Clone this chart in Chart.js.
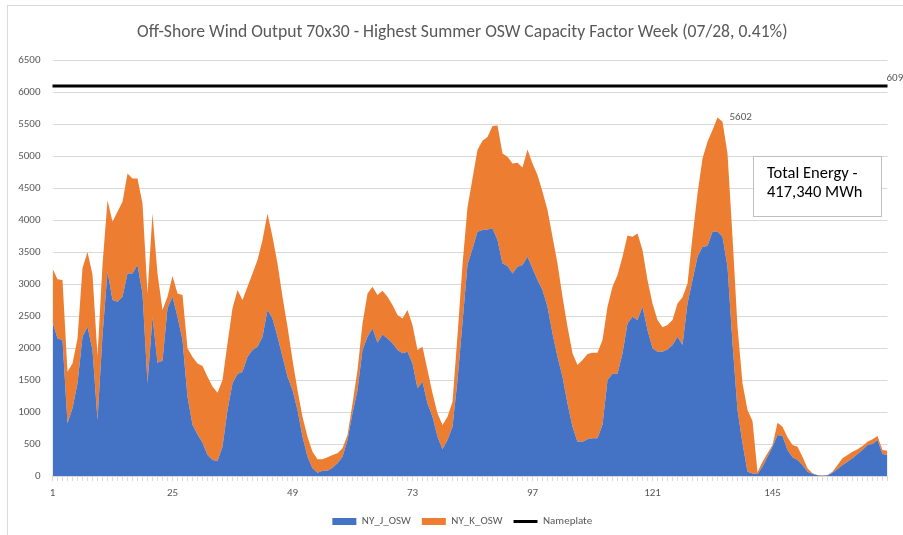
<!DOCTYPE html>
<html>
<head>
<meta charset="utf-8">
<script src="https://cdn.jsdelivr.net/npm/chart.js@4.4.1/dist/chart.umd.min.js"></script>
<style>
  html, body { margin: 0; padding: 0; background: #fff; }
  #wrap { width: 903px; height: 535px; position: relative; }
</style>
</head>
<body>
<div id="wrap"><canvas id="chart"></canvas></div>
<script>
// hours of the week (x categories) and the labels that Excel shows
const hours = Array.from({ length: 168 }, (_, i) => i + 1);
const tickLabels = ['1', '25', '49', '73', '97', '121', '145'];

// MW per hour
const nyJ = [
  2411, 2151, 2125, 823, 1057, 1448, 2177, 2333, 1969, 875,
  2200, 3192, 2750, 2724, 2802, 3166, 3166, 3296, 2854, 1448,
  2489, 1771, 1802, 2620, 2802, 2489, 2125, 1240, 800, 650,
  520, 330, 250, 235, 458, 1031, 1448, 1594, 1630, 1864,
  1969, 2021, 2177, 2594, 2463, 2177, 1864, 1552, 1344, 1031,
  615, 302, 120, 52, 83, 83, 130, 198, 302, 562,
  979, 1344, 1969, 2177, 2307, 2083, 2213, 2151, 2073, 1969,
  1917, 1943, 1760, 1370, 1474, 1135, 927, 615, 417, 562,
  771, 1500, 2400, 3300, 3550, 3817, 3844, 3854, 3870, 3687,
  3323, 3281, 3166, 3270, 3297, 3427, 3245, 3062, 2906, 2646,
  2229, 1865, 1552, 1135, 771, 536, 536, 573, 589, 589,
  800, 1500, 1600, 1600, 1917, 2385, 2490, 2438, 2646, 2281,
  1995, 1943, 1943, 1979, 2047, 2177, 2047, 2698, 3062, 3427,
  3583, 3593, 3817, 3817, 3739, 3270, 2073, 1031, 510, 68,
  40, 30, 146, 302, 458, 641, 625, 406, 292, 250,
  172, 68, 31, 10, 5, 10, 52, 109, 172, 224,
  276, 344, 406, 484, 500, 562, 344, 328
];
const nyK = [
  834, 924, 940, 807, 703, 702, 1073, 1167, 1181, 1005,
  1100, 1118, 1224, 1406, 1484, 1563, 1485, 1355, 1406, 1406,
  1615, 1395, 792, 182, 323, 365, 703, 755, 1060, 1110,
  1200, 1220, 1150, 1065, 1042, 1042, 1172, 1312, 1120, 1094,
  1197, 1354, 1510, 1510, 1276, 1146, 938, 781, 468, 313,
  312, 313, 260, 208, 177, 209, 198, 156, 130, 78,
  156, 312, 416, 677, 651, 745, 683, 651, 599, 546,
  546, 651, 599, 599, 547, 521, 365, 364, 380, 365,
  390, 700, 900, 900, 1100, 1283, 1396, 1446, 1600, 1793,
  1718, 1708, 1719, 1626, 1526, 1677, 1640, 1641, 1537, 1510,
  1510, 1458, 1250, 1198, 1146, 1198, 1276, 1333, 1338, 1338,
  1325, 1146, 1358, 1540, 1510, 1375, 1249, 1353, 885, 781,
  703, 495, 380, 380, 391, 521, 745, 312, 677, 989,
  1380, 1631, 1589, 1785, 1797, 1771, 1666, 1302, 938, 963,
  820, 30, 78, 52, 26, 192, 146, 198, 192, 208,
  130, 52, 11, 6, 5, 6, 16, 63, 104, 104,
  104, 73, 63, 52, 73, 63, 62, 68
];
const nameplate = 6096;
const totalEnergy = ['Total Energy -', '417,340 MWh'];

const FONT = 'Calibri, Carlito, Lato, sans-serif';
const GREY = '#595959';

// extra drawings: frame, peak label, nameplate label, text box
const extras = {
  id: 'extras',
  afterLayout(chart) {
    // the original chart is wider than the crop, so title and legend sit a bit right of centre
    for (const box of [chart.titleBlock, chart.legend]) {
      box.left += 15;
      box.right += 15;
    }
    chart.legend.top += 3;
    chart.legend.bottom += 3;
  },
  beforeDraw(chart) {
    const ctx = chart.ctx;
    ctx.save();
    ctx.fillStyle = '#fff';
    ctx.fillRect(0, 0, chart.width, chart.height);
    ctx.strokeStyle = '#d9d9d9';
    ctx.lineWidth = 1;
    ctx.strokeRect(7.5, 5.5, chart.width, chart.height - 3);
    ctx.restore();
  },
  afterDatasetsDraw(chart) {
    const ctx = chart.ctx;
    const xs = chart.scales.x, ys = chart.scales.y;
    ctx.save();
    // peak value label
    let best = 0;
    for (let i = 1; i < hours.length; i++) {
      if (nyJ[i] + nyK[i] > nyJ[best] + nyK[best]) best = i;
    }
    const peak = nyJ[best] + nyK[best];
    ctx.font = '11px ' + FONT;
    ctx.fillStyle = GREY;
    ctx.textBaseline = 'middle';
    ctx.textAlign = 'left';
    ctx.fillText(String(peak), xs.getPixelForValue(best) + 12, ys.getPixelForValue(peak));
    // nameplate value at the right end
    ctx.fillText(String(nameplate), xs.right - 1, ys.getPixelForValue(nameplate) - 8);
    // total energy box
    ctx.fillStyle = '#fff';
    ctx.fillRect(753.5, 156.5, 128, 60);
    ctx.strokeStyle = '#bfbfbf';
    ctx.strokeRect(753.5, 156.5, 128, 60);
    ctx.fillStyle = '#000';
    ctx.font = '16.5px ' + FONT;
    ctx.fillText(totalEnergy[0], 767, 174);
    ctx.fillText(totalEnergy[1], 767, 193);
    ctx.restore();
  }
};

new Chart(document.getElementById('chart'), {
  type: 'line',
  data: {
    labels: hours,
    datasets: [
      {
        label: 'NY_J_OSW',
        data: nyJ,
        backgroundColor: '#4472C4',
        borderColor: '#4472C4',
        borderWidth: 0,
        fill: 'origin',
        pointRadius: 0,
        tension: 0,
        stack: 'osw'
      },
      {
        label: 'NY_K_OSW',
        data: nyK,
        backgroundColor: '#ED7D31',
        borderColor: '#ED7D31',
        borderWidth: 0,
        fill: '-1',
        pointRadius: 0,
        tension: 0,
        stack: 'osw'
      },
      {
        label: 'Nameplate',
        data: hours.map(() => nameplate),
        borderColor: '#000',
        backgroundColor: '#000',
        borderWidth: 3,
        fill: false,
        pointRadius: 0,
        stack: 'np'
      }
    ]
  },
  options: {
    responsive: true,
    maintainAspectRatio: false,
    animation: false,
    devicePixelRatio: 1,
    layout: { padding: { left: 7, right: 15.5, top: 10, bottom: 1 } },
    plugins: {
      title: {
        display: true,
        text: 'Off-Shore Wind Output 70x30 - Highest Summer OSW Capacity Factor Week (07/28, 0.41%)',
        color: GREY,
        font: { family: FONT, size: 17.6, weight: 'normal' },
        padding: { top: 12, bottom: 17 }
      },
      legend: {
        position: 'bottom',
        labels: {
          color: GREY,
          font: { family: FONT, size: 11 },
          usePointStyle: true,
          pointStyleWidth: 24,
          boxHeight: 7,
          padding: 11,
          generateLabels(chart) {
            return chart.data.datasets.map((ds, i) => ({
              text: ds.label,
              fillStyle: ds.backgroundColor,
              strokeStyle: ds.borderColor,
              lineWidth: i === 2 ? 3 : 0,
              pointStyle: i === 2 ? 'line' : 'rect',
              fontColor: GREY,
              datasetIndex: i
            }));
          }
        }
      },
      tooltip: { enabled: false }
    },
    scales: {
      x: {
        stacked: true,
        offset: false,
        grid: { drawOnChartArea: false, drawTicks: true, tickLength: 5, color: '#d9d9d9' },
        border: { color: '#d9d9d9' },
        ticks: {
          autoSkip: false,
          maxRotation: 0,
          padding: 6,
          color: GREY,
          font: { family: FONT, size: 11 },
          callback(v, i) { return tickLabels.includes(String(hours[i])) ? String(hours[i]) : ''; }
        },
        afterFit(scale) { scale.height = 26; }
      },
      y: {
        stacked: true,
        min: 0,
        max: 6500,
        grid: { color: '#d9d9d9', drawTicks: false },
        border: { display: false },
        ticks: {
          stepSize: 500,
          padding: 12,
          color: GREY,
          font: { family: FONT, size: 11 },
          callback(v) { return String(v); }
        },
        afterFit(scale) { scale.width = 45.5; }
      }
    }
  },
  plugins: [extras]
});
</script>
</body>
</html>
